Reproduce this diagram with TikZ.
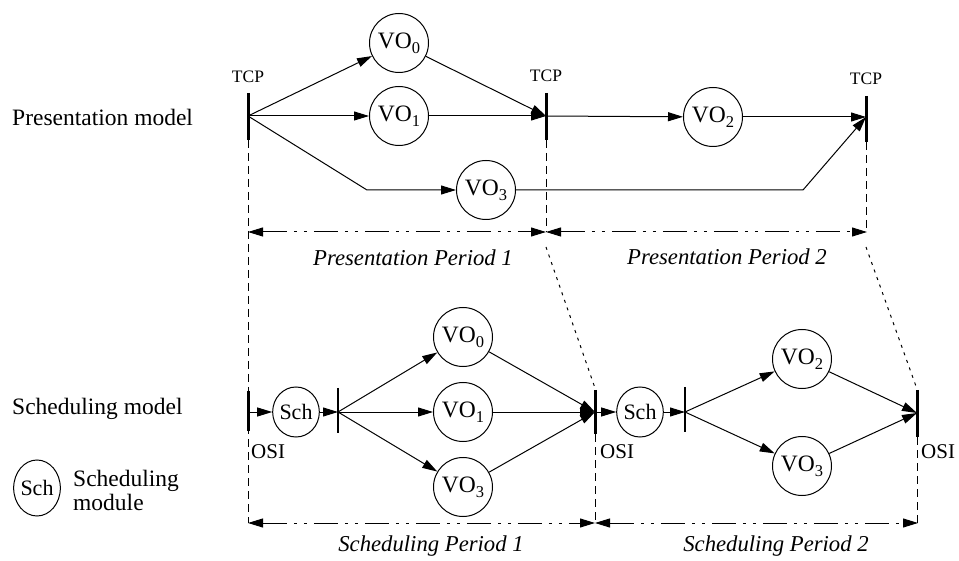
\documentclass[tikz,border=0pt]{standalone}
\usepackage{fontspec}
\setmainfont{Liberation Serif}
\usetikzlibrary{arrows.meta,shapes.geometric}
% lowered, fairly large index digit as used in the object names
\newcommand{\objidx}[1]{\raisebox{-5pt}{\fontsize{16.5}{17}\selectfont #1}}
\tikzset{
  flow/.style={line width=1pt, -{Triangle[length=15pt,width=9pt]}},
  vo/.style={circle, draw, line width=1pt, minimum size=59pt, inner sep=0pt,
    font=\fontsize{23.5}{27}\selectfont},
  sch/.style={ellipse, draw, line width=1pt, minimum width=46pt, minimum height=50pt,
    inner sep=0pt, font=\fontsize{22}{26}\selectfont},
  thickbar/.style={line width=3pt},
  thinbar/.style={line width=1.2pt},
  guide/.style={line width=1pt, dash pattern=on 8pt off 5pt},
  slant/.style={line width=1pt, dash pattern=on 3pt off 5pt},
  period/.style={line width=1pt,
    dash pattern=on 24pt off 7pt on 3pt off 7pt on 3pt off 7pt,
    {Triangle[length=15pt,width=9pt]}-{Triangle[length=15pt,width=9pt]}},
  tcp/.style={anchor=base, inner sep=0pt, font=\fontsize{17.5}{20}\selectfont},
  osi/.style={anchor=base west, inner sep=0pt, font=\fontsize{21}{25}\selectfont},
  caption/.style={anchor=base west, inner sep=0pt, font=\fontsize{23.5}{27}\selectfont},
  plabel/.style={anchor=base, inner sep=0pt, font=\fontsize{22.7}{27}\selectfont\itshape},
}
\begin{document}
\begin{tikzpicture}[x=1pt,y=-1pt]
\useasboundingbox (0,0) rectangle (959,561);

% ---------- presentation model ----------
\node[caption] (presmodel) at (12,126) {Presentation model};

\coordinate (tcpA) at (248,116);
\coordinate (tcpB) at (546,116);
\coordinate (tcpC) at (866,117);
\draw[thickbar] (248,93) -- (248,140);
\draw[thickbar] (546,93) -- (546,140);
\draw[thickbar] (866,96) -- (866,142);
\node[tcp] (tcplabA) at (248,83) {TCP};
\node[tcp] (tcplabB) at (546,82) {TCP};
\node[tcp] (tcplabC) at (866,85) {TCP};

\node[vo] (pvo0) at (399,43)  {VO\objidx{0}};
\node[vo] (pvo1) at (399,116) {VO\objidx{1}};
\node[vo] (pvo3) at (486,190) {VO\objidx{3}};
\node[vo] (pvo2) at (713,117) {VO\objidx{2}};
\coordinate (kinkA) at (367,190);
\coordinate (kinkB) at (803,190);

\draw[flow] (tcpA) -- (pvo0);
\draw[flow] (tcpA) -- (pvo1);
\draw[flow] (tcpA) -- (kinkA) -- (pvo3);
\draw[flow] (pvo0) -- (tcpB);
\draw[flow] (pvo1) -- (tcpB);
\draw[flow] (tcpB) -- (pvo2);
\draw[flow] (pvo2) -- (tcpC);
\draw[flow] (pvo3) -- (kinkB) -- (tcpC);

% period boundaries
\draw[guide] (248,140) -- (248,523);
\draw[guide] (546,140) -- (546,232);
\draw[guide] (866,142) -- (866,232);
\draw[slant] (546,247) -- (595,388);
\draw[slant] (866,247) -- (917,389);

\draw[period] (248,232) -- (546,232);
\draw[period] (546,232) -- (867,232);
\node[plabel] (pperA) at (413,266) {Presentation Period 1};
\node[plabel] (pperB) at (727,265) {Presentation Period 2};

% ---------- scheduling model ----------
\node[caption] (schedmodel) at (12,414) {Scheduling model};

\coordinate (osiA) at (248,412);
\coordinate (forkA) at (338,412);
\coordinate (osiB) at (595,412);
\coordinate (forkB) at (685,412);
\coordinate (osiC) at (917,413);
\draw[thickbar] (248,391) -- (248,431);
\draw[thinbar]  (338,388) -- (338,433);
\draw[thickbar] (595,390) -- (595,434);
\draw[thinbar]  (685,387) -- (685,432);
\draw[thickbar] (917,390) -- (917,437);
\node[osi] (osilabA) at (251,458) {OSI};
\node[osi] (osilabB) at (600,458) {OSI};
\node[osi] (osilabC) at (921,458) {OSI};

\node[sch] (schA) at (296,412) {Sch};
\node[sch] (schB) at (640,412) {Sch};
\node[vo] (svo0) at (463,337) {VO\objidx{0}};
\node[vo] (svo1) at (463,412) {VO\objidx{1}};
\node[vo] (svo3) at (463,487) {VO\objidx{3}};
\node[vo] (svo2) at (802,359) {VO\objidx{2}};
\node[vo] (svo3b) at (802,466) {VO\objidx{3}};

\draw[flow] (osiA) -- (schA);
\draw[flow] (schA) -- (forkA);
\draw[flow] (forkA) -- (svo0);
\draw[flow] (forkA) -- (svo1);
\draw[flow] (forkA) -- (svo3);
\draw[flow] (svo0) -- (osiB);
\draw[flow] (svo1) -- (osiB);
\draw[flow] (svo3) -- (osiB);
\draw[flow] (osiB) -- (schB);
\draw[flow] (schB) -- (forkB);
\draw[flow] (forkB) -- (svo2);
\draw[flow] (forkB) -- (svo3b);
\draw[flow] (svo2) -- (osiC);
\draw[flow] (svo3b) -- (osiC);

\draw[guide] (595,434) -- (595,523);
\draw[guide] (917,437) -- (917,523);
\draw[period] (248,523) -- (595,523);
\draw[period] (595,523) -- (918,523);
\node[plabel] (sperA) at (431,551) {Scheduling Period 1};
\node[plabel] (sperB) at (776,551) {Scheduling Period 2};

% ---------- legend ----------
\node[sch, minimum width=46pt, minimum height=56pt] (legsch) at (37,488) {Sch};
\node[caption] (legtxtA) at (73,486) {Scheduling};
\node[caption] (legtxtB) at (73,510) {module};
\end{tikzpicture}
\end{document}
